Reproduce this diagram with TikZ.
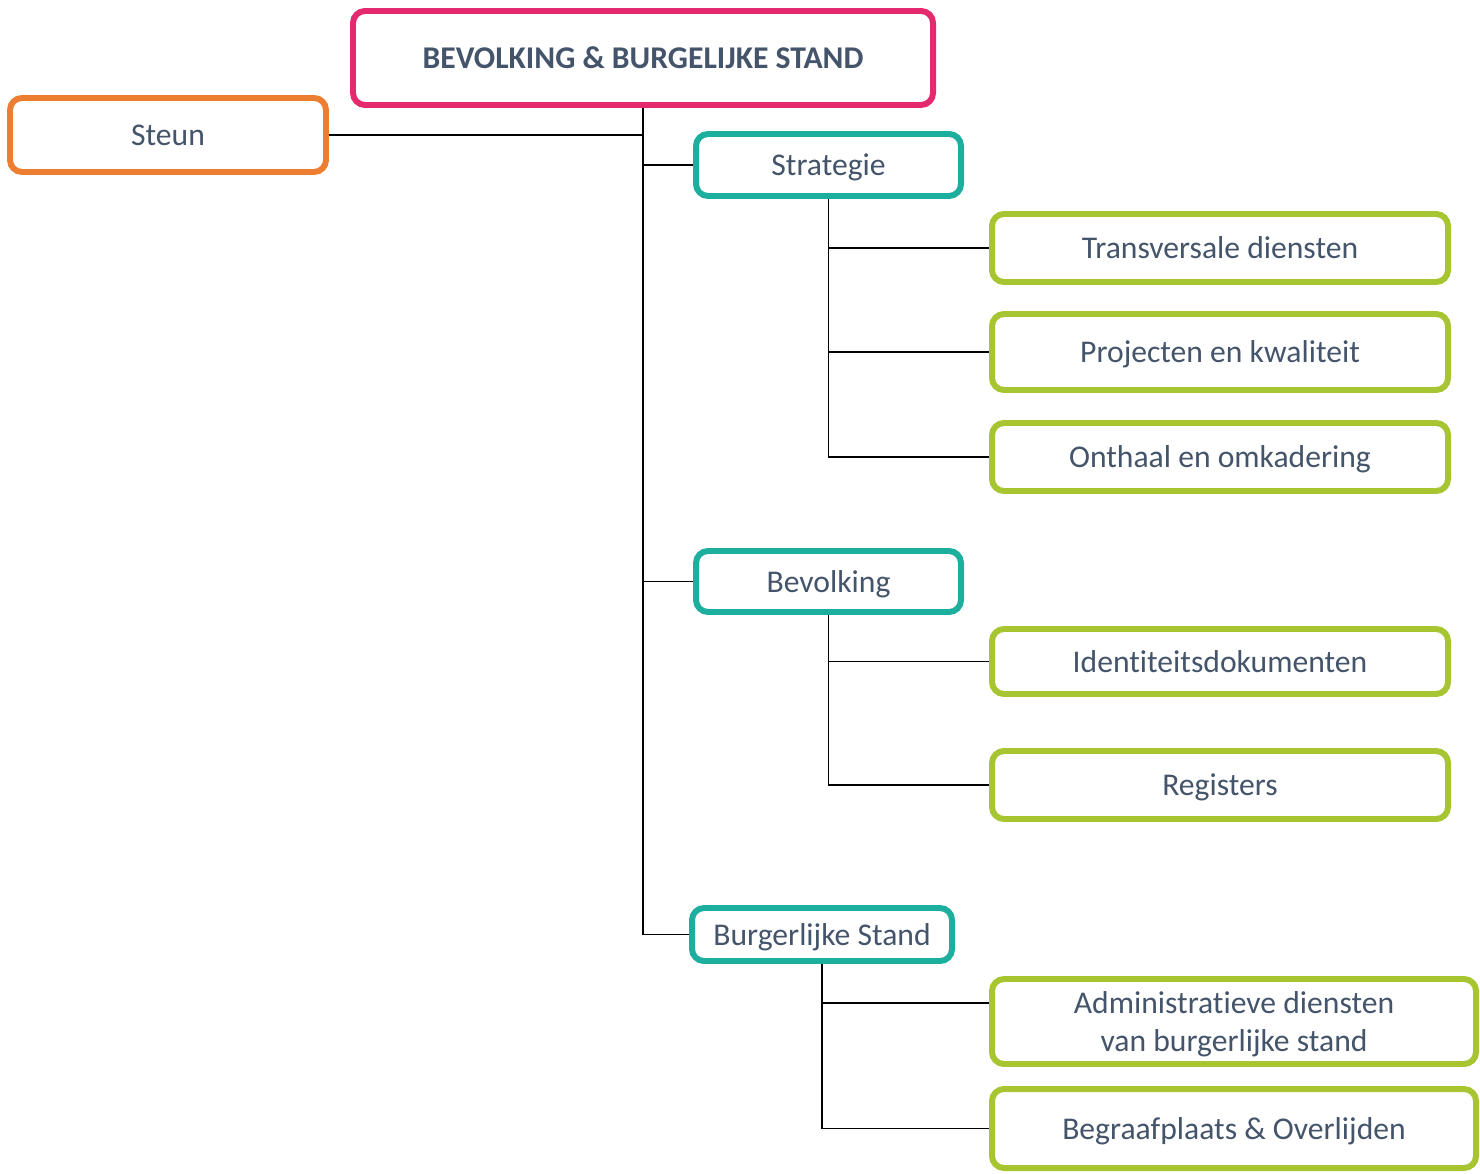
\documentclass[tikz,border=0pt]{standalone}
\usepackage{fontspec}
\setmainfont{Carlito}[Ligatures=NoCommon]
\usepackage{xcolor}
\usepackage{tikz}
\definecolor{titlepink}{RGB}{229,41,111}
\definecolor{steunorange}{RGB}{237,125,49}
\definecolor{deptteal}{RGB}{29,175,158}
\definecolor{unitgreen}{RGB}{166,197,48}
\definecolor{textslate}{RGB}{68,84,106}

\begin{document}
\begin{tikzpicture}[scale=1,
        box/.style={draw,rounded corners=0.24cm,line width=3.4pt,fill=white,text depth=0pt,
          text=textslate,font=\fontsize{18}{21.6}\selectfont,align=center,inner sep=2pt},
        top box/.style={box,draw=titlepink,minimum width=11.6cm,minimum height=1.88cm,
          font=\fontsize{18}{21.6}\selectfont\bfseries},
        side box/.style={box,draw=steunorange,minimum width=6.32cm,minimum height=1.48cm},
        dept box/.style={box,draw=deptteal,minimum width=5.3cm},
        unit box/.style={box,draw=unitgreen,minimum width=9.12cm},
        link/.style={draw=black,line width=0.8pt},
        tree edge/.style={to path={|- (\tikztotarget)}}
      ]
      \useasboundingbox (0,0) rectangle (29.6,-23.48);

      % head and support
      \node[top box] (root) at (12.86,-1.16) {BEVOLKING \& BURGELIJKE STAND};
      \node[side box] (steun) at (3.36,-2.7) {Steun};

      % departments
      \node[dept box,minimum height=1.24cm] (strat) at (16.57,-3.3) {Strategie};
      \node[dept box,minimum height=1.22cm] (bevo) at (16.57,-11.63) {Bevolking};
      \node[dept box,minimum width=5.2cm,minimum height=1.06cm] (burg) at (16.44,-18.69) {Burgerlijke Stand};

      % units
      \node[unit box,minimum height=1.36cm] (trans) at (24.4,-4.96) {Transversale diensten};
      \node[unit box,minimum height=1.52cm] (proj) at (24.4,-7.04) {Projecten en kwaliteit};
      \node[unit box,minimum height=1.36cm] (onth) at (24.4,-9.14) {Onthaal en omkadering};
      \node[unit box,minimum height=1.3cm] (ident) at (24.4,-13.23) {Identiteitsdokumenten};
      \node[unit box,minimum height=1.36cm] (regi) at (24.4,-15.7) {Registers};
      \node[unit box,minimum width=9.68cm,minimum height=1.7cm] (admin) at (24.68,-20.43)
        {Administratieve diensten\\van burgerlijke stand};
      \node[unit box,minimum width=9.68cm,minimum height=1.58cm] (begr) at (24.68,-22.57)
        {Begraafplaats \& Overlijden};

      % main trunk
      \draw[link] (steun.east) -- (steun.east -| root.south);
      \path[link,tree edge]
        (root.south) edge (strat.west)
        (root.south) edge (bevo.west)
        (root.south) edge (burg.west);

      % sub branches
      \path[link,tree edge]
        (strat.south) edge (trans.west)
        (strat.south) edge (proj.west)
        (strat.south) edge (onth.west)
        (bevo.south) edge (ident.west)
        (bevo.south) edge (regi.west)
        (burg.south) edge ([yshift=0.37cm]admin.west)
        (burg.south) edge (begr.west);
    \end{tikzpicture}
\end{document}
